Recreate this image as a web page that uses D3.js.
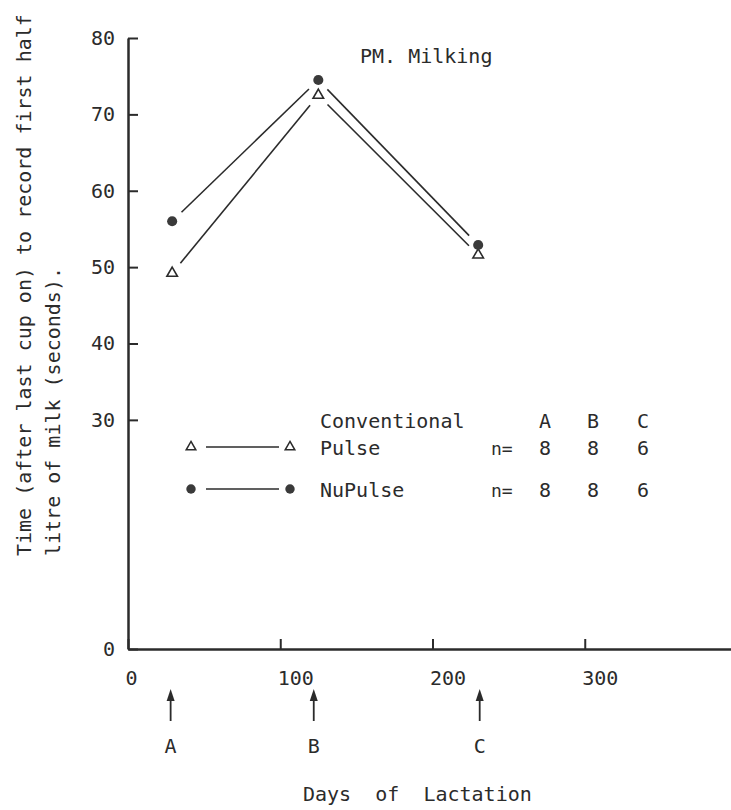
<!DOCTYPE html>
<html>
<head>
<meta charset="utf-8">
<script src="https://cdn.jsdelivr.net/npm/d3@7"></script>
<style>
  body { margin: 0; background: #fff; }
  svg text { font-family: "DejaVu Sans Mono", "Liberation Mono", monospace; fill: #2b2b2b; white-space: pre; }
</style>
</head>
<body>
<div id="chart"></div>
<script>
// sample days and times (seconds)
const days = [29, 125, 230]
const conventional = [49.2, 72.5, 51.6]
const nuPulse = [56.0, 74.5, 52.9]
const sampleLabels = ["A", "B", "C"]
const arrowDays = [28, 122, 231]
const nConventional = [8, 8, 6]
const nNuPulse = [8, 8, 6]
const xTicks = [0, 100, 200, 300]
const yTicks = [0, 30, 40, 50, 60, 70, 80]

const width = 731
const height = 810
const ink = "#2b2b2b"

const svg = d3.select("#chart")
  .append("svg")
  .attr("width", width)
  .attr("height", height)

const x = d3.scaleLinear().domain([0, 400]).range([128, 737])
const y = d3.scaleLinear().domain([0, 80]).range([649, 38])

// axes
const yAxis = svg.append("g")
  .attr("transform", `translate(${x(0)}, 0)`)
  .call(d3.axisLeft(y).tickValues(yTicks).tickSizeInner(-10).tickSizeOuter(0).tickPadding(13))
yAxis.selectAll("text").attr("font-size", 20).attr("font-family", null).attr("fill", ink)

const xAxis = svg.append("g")
  .attr("transform", `translate(0, ${y(0)})`)
  .call(d3.axisBottom(x).tickValues(xTicks).tickSizeInner(-10).tickSizeOuter(0).tickPadding(22))
xAxis.selectAll("text").attr("font-size", 20).attr("font-family", null).attr("fill", ink)
  .attr("text-anchor", "start").attr("dx", -3)

svg.selectAll(".domain").attr("stroke", ink).attr("stroke-width", 2.5)
svg.selectAll(".tick line").attr("stroke", ink).attr("stroke-width", 2)

// connecting segments stop short of the markers
const gap = 13
const segments = (vals) => d3.range(vals.length - 1).map(i => {
  const x0 = x(days[i]), y0 = y(vals[i]), x1 = x(days[i + 1]), y1 = y(vals[i + 1])
  const len = Math.hypot(x1 - x0, y1 - y0)
  const ux = (x1 - x0) / len, uy = (y1 - y0) / len
  return [x0 + ux * gap, y0 + uy * gap, x1 - ux * gap, y1 - uy * gap]
})

const drawSeries = (vals, kind) => {
  svg.append("g").selectAll("line")
    .data(segments(vals))
    .join("line")
    .attr("x1", d => d[0]).attr("y1", d => d[1])
    .attr("x2", d => d[2]).attr("y2", d => d[3])
    .attr("stroke", ink).attr("stroke-width", 1.6)

  const pts = svg.append("g").selectAll("path")
    .data(vals)
    .join("path")
    .attr("transform", (d, i) => `translate(${x(days[i])}, ${y(d)})`)
  if (kind === "tri") {
    pts.attr("d", d3.symbol(d3.symbolTriangle, 48)).attr("fill", "#fff").attr("stroke", ink).attr("stroke-width", 1.6)
  } else {
    pts.attr("d", d3.symbol(d3.symbolCircle, 80)).attr("fill", "#3a3a3a")
  }
}

drawSeries(conventional, "tri")
drawSeries(nuPulse, "dot")

// title
svg.append("text").attr("x", 360).attr("y", 63).attr("font-size", 20).text("PM. Milking")

// y label
const yLab = ["Time (after last cup on) to record first half", "litre of milk (seconds)."]
svg.append("g").selectAll("text")
  .data(yLab)
  .join("text")
  .attr("transform", (d, i) => `translate(${31 + i * 29}, 556) rotate(-90)`)
  .attr("font-size", 20)
  .text(d => d)

// sample arrows
const arrows = svg.append("g").selectAll("g")
  .data(arrowDays)
  .join("g")
  .attr("transform", d => `translate(${x(d)}, 0)`)
arrows.append("line").attr("y1", 698).attr("y2", 721).attr("stroke", ink).attr("stroke-width", 1.8)
arrows.append("path").attr("d", "M0,689 L-4,701 L4,701 Z").attr("fill", ink)
arrows.append("text").attr("y", 753).attr("text-anchor", "middle").attr("font-size", 20)
  .text((d, i) => sampleLabels[i])

svg.append("text").attr("x", 303).attr("y", 801).attr("font-size", 20).text("Days  of  Lactation")

// legend
const legend = svg.append("g")
const rows = [
  {name: "Pulse", y: 455, kind: "tri", n: nConventional},
  {name: "NuPulse", y: 497, kind: "dot", n: nNuPulse}
]
legend.append("text").attr("x", 320).attr("y", 428).attr("font-size", 20).text("Conventional")
const colX = [545, 593, 643]
legend.selectAll(".hdr")
  .data(sampleLabels)
  .join("text")
  .attr("x", (d, i) => colX[i]).attr("y", 428)
  .attr("text-anchor", "middle").attr("font-size", 20)
  .text(d => d)

rows.forEach(r => {
  const my = r.y - 8
  legend.append("line").attr("x1", 206).attr("x2", 279).attr("y1", my).attr("y2", my)
    .attr("stroke", ink).attr("stroke-width", 1.6)
  ;[191, 290].forEach(mx => {
    const p = legend.append("path").attr("transform", `translate(${mx}, ${my})`)
    if (r.kind === "tri") {
      p.attr("d", d3.symbol(d3.symbolTriangle, 40)).attr("fill", "#fff").attr("stroke", ink).attr("stroke-width", 1.5)
    } else {
      p.attr("d", d3.symbol(d3.symbolCircle, 70)).attr("fill", "#3a3a3a")
    }
  })
  legend.append("text").attr("x", 320).attr("y", r.y).attr("font-size", 20).text(r.name)
  legend.append("text").attr("x", 491).attr("y", r.y).attr("font-size", 18).text("n=")
  legend.selectAll(null)
    .data(r.n)
    .join("text")
    .attr("x", (d, i) => colX[i]).attr("y", r.y)
    .attr("text-anchor", "middle").attr("font-size", 20)
    .text(d => d)
})
</script>
</body>
</html>
